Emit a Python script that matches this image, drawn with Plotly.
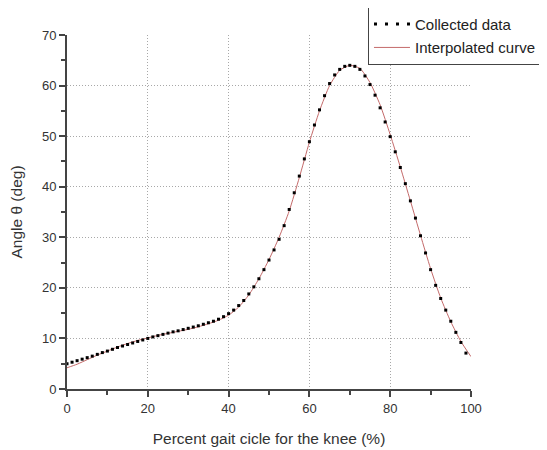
import plotly.graph_objects as go

# Collected data (dots), gait cycle % and knee angle (deg)
data_x = [i * 1.25 for i in range(80)]
data_y = [5.0, 5.3, 5.6, 5.9, 6.2, 6.5, 6.85, 7.2, 7.5, 7.85,
          8.2, 8.5, 8.8, 9.1, 9.4, 9.7, 10.0, 10.3, 10.55, 10.8,
          11.05, 11.3, 11.5, 11.75, 12.0, 12.25, 12.5, 12.8, 13.1, 13.4,
          13.8, 14.3, 14.9, 15.6, 16.5, 17.5, 18.8, 20.2, 21.8, 23.6,
          25.5, 27.5, 29.6, 32.3, 35.5, 38.8, 42.1, 45.5, 48.9, 52.2,
          55.2, 58.0, 60.4, 62.1, 63.2, 63.8, 64.0, 63.8, 63.2, 61.9,
          60.2, 58.1, 55.6, 52.8, 49.9, 46.9, 43.8, 40.6, 37.2, 33.8,
          30.3, 26.9, 23.6, 20.5, 17.9, 15.6, 13.4, 11.2, 9.2, 7.1]

# Interpolated curve
curve_x = [0, 2.5, 5, 7.5, 10, 12.5, 15, 17.5, 20, 22.5, 25, 27.5, 30, 32.5,
           35, 37.5, 40, 42.5, 45, 47.5, 50, 52.5, 55, 57.5, 60, 62.5, 65,
           67.5, 70, 72.5, 75, 77.5, 80, 82.5, 85, 87.5, 90, 92.5, 95, 97.5, 100]
curve_y = [4.2, 4.9, 5.8, 6.7, 7.5, 8.3, 9.0, 9.6, 10.1, 10.6, 11.0, 11.4, 11.8, 12.3,
           12.9, 13.6, 14.6, 16.2, 18.6, 21.8, 25.6, 30.0, 35.2, 41.8, 48.8, 55.0, 60.0,
           63.0, 64.0, 63.4, 60.6, 56.2, 50.3, 43.9, 37.2, 30.4, 23.8, 18.0, 13.3, 9.4, 6.4]

x_ticks = [0, 20, 40, 60, 80, 100]
y_ticks = [0, 10, 20, 30, 40, 50, 60, 70]

FONT = "Arial, Liberation Sans, sans-serif"

fig = go.Figure()
fig.add_trace(go.Scatter(
    x=curve_x, y=curve_y, mode="lines", name="Interpolated curve",
    line=dict(color="#c46a6a", width=1, shape="spline", smoothing=0.6),
    legendgroup="b", legendrank=2))
fig.add_trace(go.Scatter(
    x=data_x, y=data_y, mode="markers", name="Collected data",
    marker=dict(symbol="square", size=3, color="black"),
    showlegend=False))
fig.add_trace(go.Scatter(
    x=[None], y=[None], mode="lines", name="Collected data",
    line=dict(color="black", width=3, dash="3px,8px"),
    legendgroup="a", legendrank=1))

axis_common = dict(
    showline=True, linecolor="#444", linewidth=2,
    ticks="outside", tickcolor="#444", ticklen=6, tickwidth=1.5,
    showgrid=True, gridcolor="#a8a8a8", gridwidth=1, griddash="1px,2px",
    zeroline=False, tickfont=dict(family=FONT, size=13, color="#333"),
    mirror=False, automargin=False,
)

# page body has an 8px default margin, so the figure is sized to fit the window
fig.update_layout(
    width=539, height=442,
    margin=dict(l=59, r=76, t=27, b=61, autoexpand=False),
    paper_bgcolor="white", plot_bgcolor="white",
    font=dict(family=FONT, color="#333"),
    xaxis=dict(range=[0, 100], tickvals=x_ticks,
               minor=dict(dtick=10, ticks="outside", ticklen=4, tickcolor="#444", showgrid=False),
               title=dict(text="Percent gait cicle for the knee (%)",
                          font=dict(family=FONT, size=15.5, color="#333"), standoff=19),
               **axis_common),
    yaxis=dict(range=[0, 70], tickvals=y_ticks,
               minor=dict(dtick=5, ticks="outside", ticklen=4, tickcolor="#444", showgrid=False),
               title=dict(text="Angle θ (deg)",
                          font=dict(family=FONT, size=15.5, color="#333"), standoff=18),
               **axis_common),
    legend=dict(x=0.745, y=1.08, xanchor="left", yanchor="top",
                bordercolor="#444", borderwidth=1, bgcolor="white",
                font=dict(family=FONT, size=15, color="#222"),
                itemwidth=36,
                traceorder="grouped", tracegroupgap=1),
    showlegend=True,
)

fig.write_html("out.html")
